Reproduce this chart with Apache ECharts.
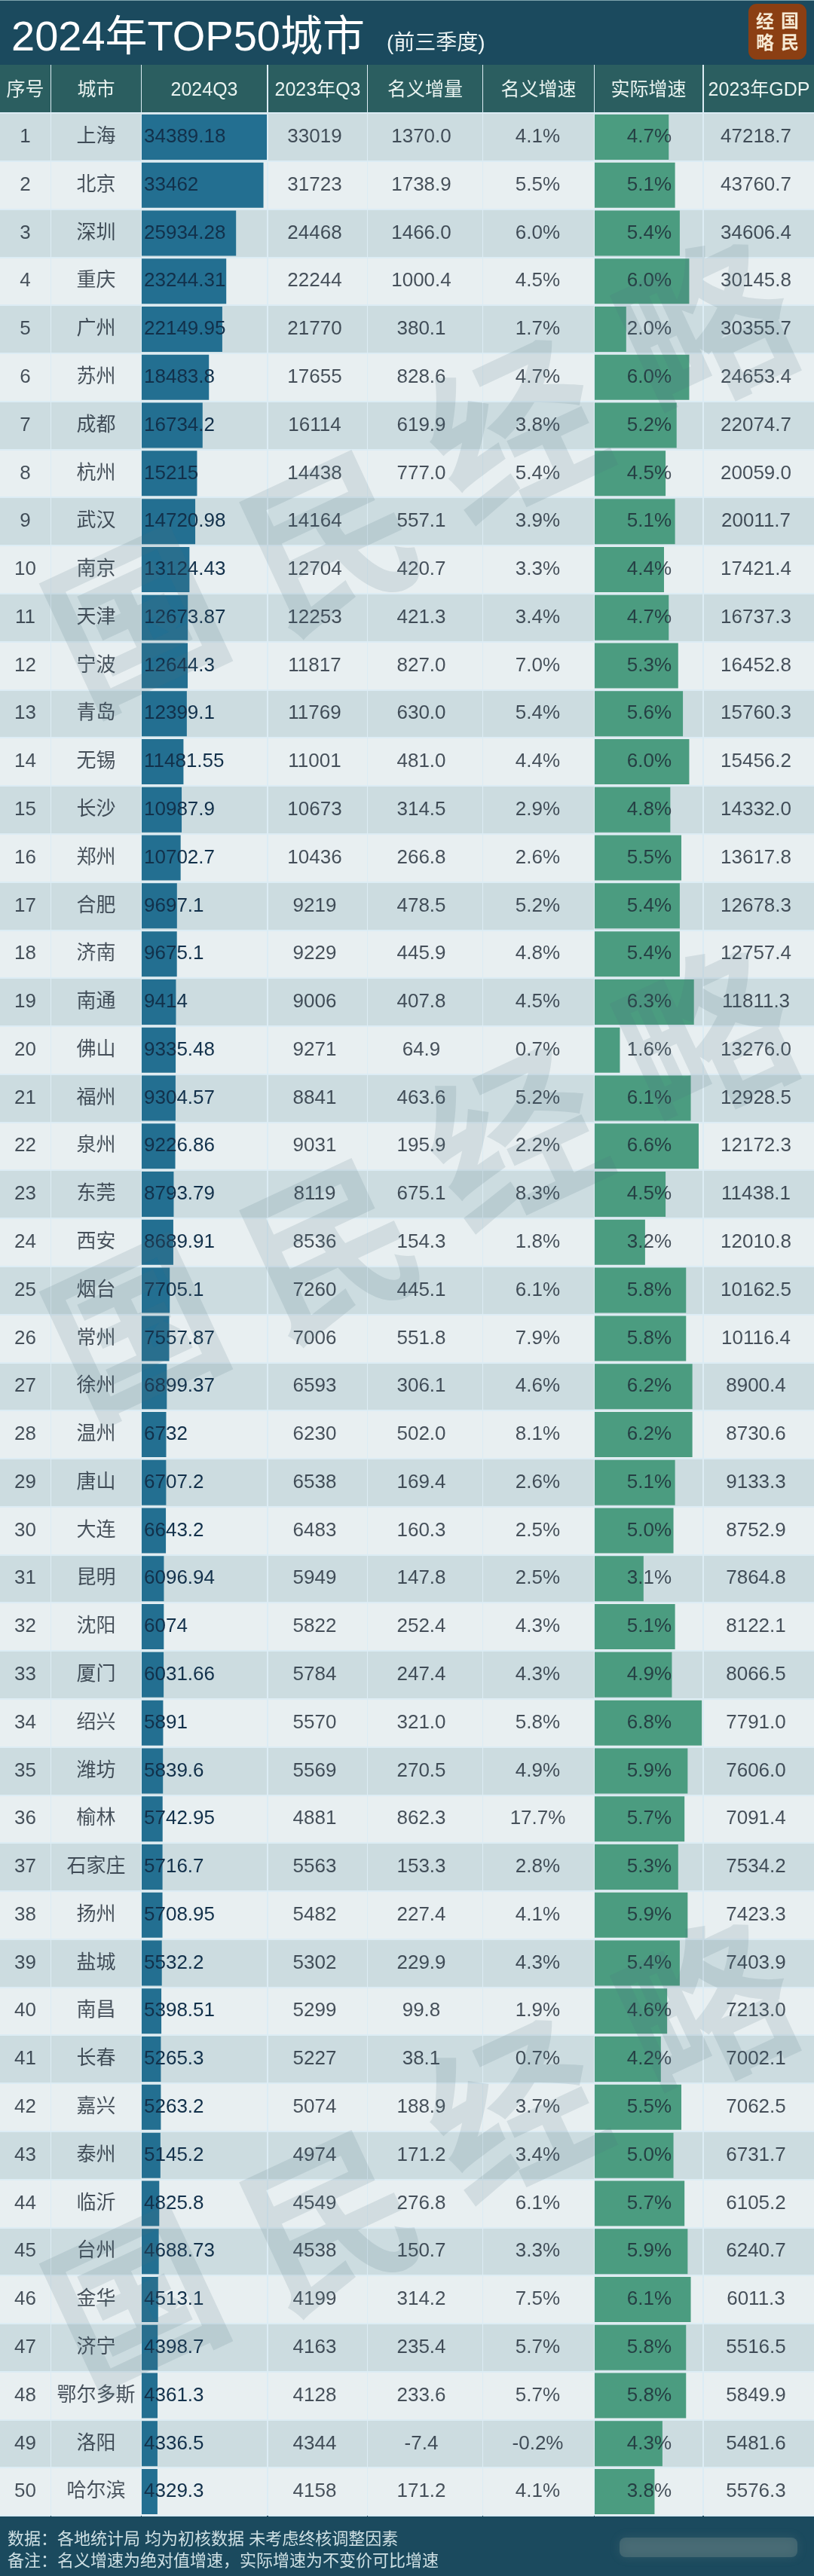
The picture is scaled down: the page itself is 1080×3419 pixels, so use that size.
<!DOCTYPE html>
<html lang="zh"><head><meta charset="utf-8">
<style>html,body{margin:0;padding:0;background:#dcecf0}#c{width:1080px;height:3419px}</style>
<script src="https://cdn.jsdelivr.net/npm/echarts@6/dist/echarts.min.js"></script>
</head><body><div id="c"></div>
<script>
const ranks = Array.from({length: 50}, (_, i) => String(i + 1));
const cities = ['上海','北京','深圳','重庆','广州','苏州','成都','杭州','武汉','南京','天津','宁波','青岛','无锡','长沙','郑州','合肥','济南','南通','佛山','福州','泉州','东莞','西安','烟台','常州','徐州','温州','唐山','大连','昆明','沈阳','厦门','绍兴','潍坊','榆林','石家庄','扬州','盐城','南昌','长春','嘉兴','泰州','临沂','台州','金华','济宁','鄂尔多斯','洛阳','哈尔滨'];
const q3_2024 = [34389.18,33462,25934.28,23244.31,22149.95,18483.8,16734.2,15215,14720.98,13124.43,12673.87,12644.3,12399.1,11481.55,10987.9,10702.7,9697.1,9675.1,9414,9335.48,9304.57,9226.86,8793.79,8689.91,7705.1,7557.87,6899.37,6732,6707.2,6643.2,6096.94,6074,6031.66,5891,5839.6,5742.95,5716.7,5708.95,5532.2,5398.51,5265.3,5263.2,5145.2,4825.8,4688.73,4513.1,4398.7,4361.3,4336.5,4329.3];
const q3_2023 = [33019,31723,24468,22244,21770,17655,16114,14438,14164,12704,12253,11817,11769,11001,10673,10436,9219,9229,9006,9271,8841,9031,8119,8536,7260,7006,6593,6230,6538,6483,5949,5822,5784,5570,5569,4881,5563,5482,5302,5299,5227,5074,4974,4549,4538,4199,4163,4128,4344,4158];
const nominalInc = [1370.0,1738.9,1466.0,1000.4,380.1,828.6,619.9,777.0,557.1,420.7,421.3,827.0,630.0,481.0,314.5,266.8,478.5,445.9,407.8,64.9,463.6,195.9,675.1,154.3,445.1,551.8,306.1,502.0,169.4,160.3,147.8,252.4,247.4,321.0,270.5,862.3,153.3,227.4,229.9,99.8,38.1,188.9,171.2,276.8,150.7,314.2,235.4,233.6,-7.4,171.2];
const nominalRate = [4.1,5.5,6.0,4.5,1.7,4.7,3.8,5.4,3.9,3.3,3.4,7.0,5.4,4.4,2.9,2.6,5.2,4.8,4.5,0.7,5.2,2.2,8.3,1.8,6.1,7.9,4.6,8.1,2.6,2.5,2.5,4.3,4.3,5.8,4.9,17.7,2.8,4.1,4.3,1.9,0.7,3.7,3.4,6.1,3.3,7.5,5.7,5.7,-0.2,4.1];
const realRate = [4.7,5.1,5.4,6.0,2.0,6.0,5.2,4.5,5.1,4.4,4.7,5.3,5.6,6.0,4.8,5.5,5.4,5.4,6.3,1.6,6.1,6.6,4.5,3.2,5.8,5.8,6.2,6.2,5.1,5.0,3.1,5.1,4.9,6.8,5.9,5.7,5.3,5.9,5.4,4.6,4.2,5.5,5.0,5.7,5.9,6.1,5.8,5.8,4.3,3.8];
const gdp2023 = [47218.7,43760.7,34606.4,30145.8,30355.7,24653.4,22074.7,20059.0,20011.7,17421.4,16737.3,16452.8,15760.3,15456.2,14332.0,13617.8,12678.3,12757.4,11811.3,13276.0,12928.5,12172.3,11438.1,12010.8,10162.5,10116.4,8900.4,8730.6,9133.3,8752.9,7864.8,8122.1,8066.5,7791.0,7606.0,7091.4,7534.2,7423.3,7403.9,7213.0,7002.1,7062.5,6731.7,6105.2,6240.7,6011.3,5516.5,5849.9,5481.6,5576.3];
const headers = ['序号','城市','2024Q3','2023年Q3','名义增量','名义增速','实际增速','2023年GDP'];
const titleText = '2024年TOP50城市';
const subtitleText = '(前三季度)';
const noteLines = ['数据：各地统计局 均为初核数据 未考虑终核调整因素','备注：名义增速为绝对值增速，实际增速为不变价可比增速'];
const watermarkChars = ['国','民','经','略'];
const logoChars = ['经','国','略','民'];

const FONT = '"Liberation Sans","Noto Sans CJK SC",sans-serif';
const C = {title:'#1b4a5e', head:'#2b5e60', odd:'#ccdce0', even:'#e8eff1', blue:'#236f91', green:'#4b9c80', gap:'#dcecf4', ink:'#1c2733', barInk:'#12304a', head2:'#eaf4f1'};
const TOP = 150, H = 3189, BARW = 60;
const colL = [0,68,188,356,488,641,789,934];
const colR = [67,187,354,487,640,788,932,1080];
const shift = [0,0,0,-4,-5,-1,1,-4];
const f1 = v => v.toFixed(1);
const pct = v => v.toFixed(1) + '%';
const cellText = [ranks, cities, null, q3_2023.map(String), nominalInc.map(f1), nominalRate.map(pct), realRate.map(pct), gdp2023.map(f1)];

const grid = [], xAxis = [], yAxis = [], series = [];
function addGrid(col, withBg, xOpt, name) {
  const idx = grid.length;
  grid.push({left: colL[col], top: TOP, width: colR[col] - colL[col], height: H, containLabel: false});
  xAxis.push(Object.assign({gridIndex: idx, type: 'value', position: 'top', show: !!name, name: name || '', nameLocation: 'middle', nameGap: 30,
    nameTextStyle: {color: C.head2, fontSize: 25, fontFamily: FONT, verticalAlign: 'middle'},
    axisLine: {show: false}, axisTick: {show: false}, axisLabel: {show: false}, splitLine: {show: false}}, xOpt));
  yAxis.push({gridIndex: idx, type: 'category', inverse: true, data: cities, show: withBg,
    axisLine: {show: false}, axisTick: {show: false}, axisLabel: {show: false},
    splitArea: {show: withBg, interval: 0, areaStyle: {color: [C.odd, C.even]}},
    splitLine: {show: withBg, interval: 0, lineStyle: {color: C.gap, width: 2}}});
  return idx;
}
function addText(col, idx) {
  const texts = cellText[col];
  series.push({type: 'scatter', xAxisIndex: idx, yAxisIndex: idx, silent: true, symbolSize: 1, itemStyle: {color: 'rgba(0,0,0,0)'}, z: 5,
    data: texts.map((t, i) => ({value: [0, i], label: {formatter: t}})),
    label: {show: true, position: 'inside', offset: [shift[col], 0], color: C.ink, fontSize: 26, fontFamily: FONT}});
}
for (let col = 0; col < 8; col++) {
  if (col === 2) {
    const g = addGrid(col, true, {min: 0, max: 34389.18}, headers[col]);
    series.push({type: 'bar', xAxisIndex: g, yAxisIndex: g, barWidth: BARW, silent: true, z: 3, data: q3_2024,
      itemStyle: {color: C.blue},
      label: {show: true, position: 'insideLeft', distance: 3, color: C.barInk, fontSize: 26, fontFamily: FONT, formatter: p => String(p.value)}});
  } else if (col === 6) {
    const g = addGrid(col, true, {min: 0, max: 6.84});
    series.push({type: 'bar', xAxisIndex: g, yAxisIndex: g, barWidth: BARW, silent: true, z: 3, data: realRate, itemStyle: {color: C.green}});
    addText(col, addGrid(col, false, {min: -1, max: 1}, headers[col]));
  } else {
    const g = addGrid(col, true, {min: -1, max: 1}, headers[col]);
    addText(col, g);
  }
}

const graphics = [
  {type:'rect', z:-10, silent:true, shape:{x:0,y:0,width:1080,height:86}, style:{fill:C.title}},
  {type:'rect', z:-9, silent:true, shape:{x:0,y:0,width:1080,height:1}, style:{fill:'#7ea4ad'}},
  {type:'rect', z:-10, silent:true, shape:{x:0,y:3339,width:1080,height:80}, style:{fill:C.title}},
  {type:'rect', z:60, silent:true, shape:{x:993,y:5,width:77,height:74,r:11}, style:{fill:'#8b3f13'}},
  {type:'rect', z:-8, silent:true, shape:{x:822,y:3368,width:236,height:26,r:8}, style:{fill:'rgba(130,150,145,0.32)', shadowBlur:14, shadowColor:'rgba(130,150,145,0.6)'}}
];
colL.forEach((l, i) => graphics.push({type:'rect', z:-10, silent:true, shape:{x:l,y:86,width:colR[i]-l,height:63}, style:{fill:C.head}}));
[[1015,28],[1048,27],[1015,56],[1048,56]].forEach((p, i) => graphics.push({type:'text', z:61, silent:true, x:p[0], y:p[1],
  style:{text:logoChars[i], fill:'#f5e8d2', font:'bold 24px "Noto Sans CJK SC"', textAlign:'center', textVerticalAlign:'middle'}}));
// three diagonal watermark runs, same shape shifted down the page
const markBase = [[179,822],[437,716],[682,570],[936,435]];
[0, 940, 2230].forEach(dy =>
  markBase.forEach((p, i) => graphics.push({type:'text', z:100, silent:true, x:p[0], y:p[1] + dy, rotation: 25 * Math.PI / 180,
    style:{text:watermarkChars[i], fill:'rgba(80,115,130,0.15)', font:'bold 225px "Noto Sans CJK SC"', textAlign:'center', textVerticalAlign:'middle'}})));

const chart = echarts.init(document.getElementById('c'), null, {renderer:'canvas', width:1080, height:3419});
chart.setOption({
  animation: false,
  backgroundColor: C.gap,
  tooltip: {show: false},
  title: [
    {text: titleText, left: 10, top: 19, textStyle: {color:'#ffffff', fontSize:56, fontWeight:'normal', fontFamily:FONT}},
    {text: subtitleText, left: 508, top: 39, textStyle: {color:'#eef6f6', fontSize:28, fontWeight:'normal', fontFamily:FONT}},
    {text: noteLines[0], left: 5, top: 3355, textStyle: {color:'#cfe0e4', fontSize:22, fontWeight:'normal', fontFamily:FONT}},
    {text: noteLines[1], left: 5, top: 3384, textStyle: {color:'#cfe0e4', fontSize:22, fontWeight:'normal', fontFamily:FONT}}
  ],
  grid, xAxis, yAxis, series,
  graphic: {elements: graphics}
});
</script></body></html>
